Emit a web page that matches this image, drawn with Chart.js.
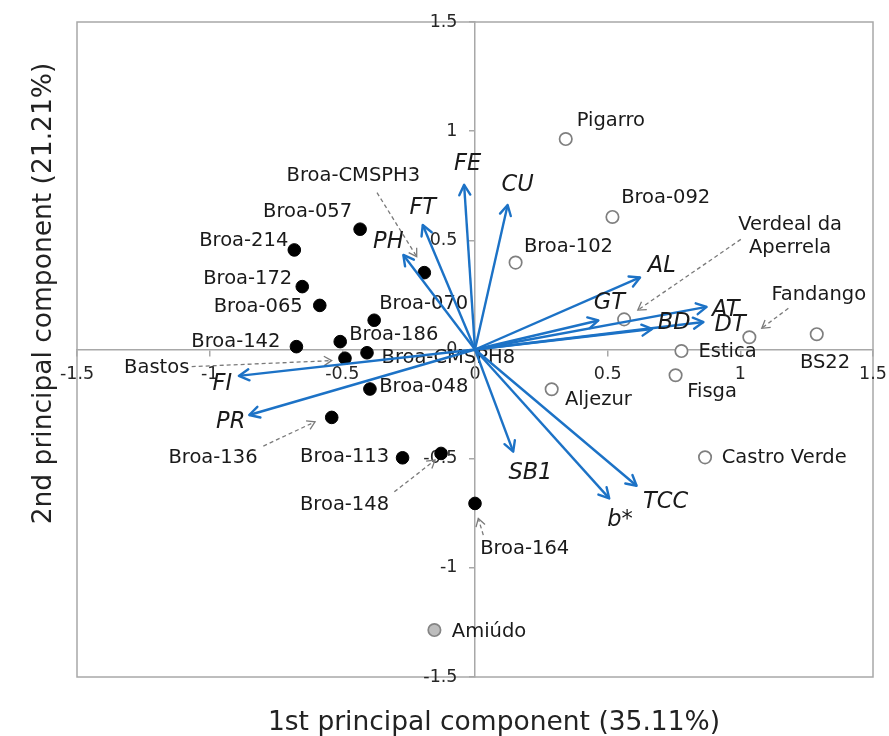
<!DOCTYPE html>
<html>
<head>
<meta charset="utf-8">
<title>PCA biplot</title>
<script src="https://cdn.jsdelivr.net/npm/chart.js@4.4.1/dist/chart.umd.min.js"></script>
<style>
  html, body { margin: 0; padding: 0; background: #ffffff; }
  canvas { display: block; }
</style>
</head>
<body>
<canvas id="biplot" width="889" height="736"></canvas>
<script>
// Scores of the Broa populations (filled markers)
const broaNames = ['Broa-057', 'Broa-214', 'Broa-172', 'Broa-065', 'Broa-CMSPH3', 'Broa-070',
  'Broa-142', 'Broa-186', 'Broa-CMSPH8', 'Bastos', 'Broa-048', 'Broa-136', 'Broa-113',
  'Broa-148', 'Broa-164'];
const broaPC1 = [-0.433, -0.681, -0.651, -0.585, -0.191, -0.380, -0.673, -0.508, -0.407,
  -0.490, -0.396, -0.540, -0.273, -0.128, 0.000];
const broaPC2 = [0.551, 0.456, 0.288, 0.202, 0.352, 0.134, 0.013, 0.036, -0.015,
  -0.040, -0.181, -0.311, -0.496, -0.476, -0.705];

// Scores of the other populations (open markers)
const otherNames = ['Pigarro', 'Broa-092', 'Broa-102', 'Verdeal da Aperrela', 'Fandango',
  'BS22', 'Estica', 'Fisga', 'Aljezur', 'Castro Verde'];
const otherPC1 = [0.342, 0.518, 0.153, 0.562, 1.034, 1.288, 0.778, 0.756, 0.289, 0.867];
const otherPC2 = [0.964, 0.607, 0.398, 0.138, 0.056, 0.070, -0.007, -0.118, -0.182, -0.494];

// Amiúdo (grey marker)
const greyNames = ['Amiúdo'];
const greyPC1 = [-0.153];
const greyPC2 = [-1.285];

// Trait loadings, drawn as vectors from the origin
const traitNames = ['FE', 'CU', 'FT', 'PH', 'AL', 'GT', 'AT', 'DT', 'BD', 'FI', 'PR', 'SB1', 'b*', 'TCC'];
const traitPC1 = [-0.041, 0.123, -0.197, -0.270, 0.622, 0.465, 0.873, 0.861, 0.667, -0.890, -0.851, 0.144, 0.506, 0.609];
const traitPC2 = [0.754, 0.662, 0.570, 0.433, 0.330, 0.133, 0.195, 0.126, 0.094, -0.121, -0.300, -0.468, -0.682, -0.624];

const axisTicks = [-1.5, -1, -0.5, 0, 0.5, 1, 1.5];
const xTitle = '1st principal component (35.11%)';
const yTitle = '2nd principal component (21.21%)';

// ---- styling / placement ----
const FONT = '"DejaVu Sans", Verdana, sans-serif';
const ARROW_BLUE = '#1c72c6';
const AXIS_GREY = '#a8a8a8';
const TEXT = '#1a1a1a';

// label offsets in px from the marker: [dx, dy, align]
const labelPlace = {
  'Broa-057': [-8, -17.6, 'right'],
  'Broa-214': [-6, -9.3, 'right'],
  'Broa-172': [-10, -7.4, 'right'],
  'Broa-065': [-17, 1.4, 'right'],
  'Broa-CMSPH3': [-71, -96.7, 'center'],
  'Broa-070': [5, -16.3, 'left'],
  'Broa-142': [-16, -5, 'right'],
  'Broa-186': [9, -6.7, 'left'],
  'Broa-CMSPH8': [14.5, 5.6, 'left'],
  'Bastos': [-155.7, 10, 'right'],
  'Broa-048': [9.3, -2.3, 'left'],
  'Broa-136': [-118.7, 41, 'center'],
  'Broa-113': [-13.4, -1, 'right'],
  'Broa-148': [-96.5, 51.7, 'center'],
  'Broa-164': [49.7, 46, 'center'],
  'Pigarro': [11, -18.3, 'left'],
  'Broa-092': [8.7, -18.7, 'left'],
  'Broa-102': [8.3, -16, 'left'],
  'Verdeal da Aperrela': [166, -94.3, 'center', ['Verdeal da', 'Aperrela']],
  'Fandango': [69.4, -42.3, 'center'],
  'BS22': [8.3, 28.4, 'center'],
  'Estica': [17, 0.7, 'left'],
  'Fisga': [11.6, 16.4, 'left'],
  'Aljezur': [13.3, 10.7, 'left'],
  'Castro Verde': [16.7, 1, 'left'],
  'Amiúdo': [17.4, 1.7, 'left']
};

// dashed leader arrows from a label to its marker (px offsets from the marker)
const leaders = {
  'Broa-CMSPH3': { from: [-47.3, -80], to: [-7.6, -16] },
  'Bastos': { from: [-153.3, 8.4], to: [-13.3, 2.4] },
  'Broa-136': { from: [-68.4, 28.7], to: [-16.7, 4.4] },
  'Broa-148': { from: [-46.7, 38.4], to: [-6, 6.7] },
  'Broa-164': { from: [8.3, 31.7], to: [3.3, 15] },
  'Verdeal da Aperrela': { from: [116.7, -80], to: [13.7, -9.3] },
  'Fandango': { from: [39, -29], to: [12.4, -9] }
};

// trait label offsets from the vector tip (label centre)
const traitPlace = {
  'FE': [3.5, -20.7], 'CU': [10, -20], 'FT': [0, -16.7], 'PH': [-15, -13.3],
  'AL': [21.7, -10.8], 'GT': [10.9, -17.2], 'AT': [19.1, 3], 'BD': [22.2, -5.7],
  'DT': [26.7, 3], 'FI': [-16.5, 8], 'PR': [-18.5, 6.7], 'SB1': [17.2, 21.6],
  'b*': [10.7, 21.7], 'TCC': [29.1, 16]
};

const toPoints = (xs, ys) => xs.map((x, i) => ({ x: x, y: ys[i] }));

const traitSets = traitNames.map((name, i) => ({
  label: name,
  data: [{ x: 0, y: 0 }, { x: traitPC1[i], y: traitPC2[i] }],
  showLine: true,
  borderColor: ARROW_BLUE,
  borderWidth: 2.4,
  pointRadius: 0,
  pointHoverRadius: 0,
  fill: false,
  order: 0,
  isTrait: true
}));

const markerSets = [
  { label: 'broa', names: broaNames, data: toPoints(broaPC1, broaPC2),
    backgroundColor: '#000000', borderColor: '#000000', borderWidth: 1, pointRadius: 6.3, order: 2 },
  { label: 'other', names: otherNames, data: toPoints(otherPC1, otherPC2),
    backgroundColor: '#ffffff', borderColor: '#7f7f7f', borderWidth: 1.7, pointRadius: 6.2, order: 2 },
  { label: 'grey', names: greyNames, data: toPoints(greyPC1, greyPC2),
    backgroundColor: '#bdbdbd', borderColor: '#858585', borderWidth: 1.7, pointRadius: 6.2, order: 2 }
];

function drawHead(ctx, x0, y0, x1, y1, len, half) {
  const a = Math.atan2(y1 - y0, x1 - x0);
  ctx.beginPath();
  ctx.moveTo(x1 - len * Math.cos(a - half), y1 - len * Math.sin(a - half));
  ctx.lineTo(x1, y1);
  ctx.lineTo(x1 - len * Math.cos(a + half), y1 - len * Math.sin(a + half));
  ctx.stroke();
}

// frame around the plotting area
const framePlugin = {
  id: 'frame',
  beforeDraw(chart) {
    const { ctx, chartArea: a } = chart;
    ctx.save();
    ctx.strokeStyle = AXIS_GREY;
    ctx.lineWidth = 1.5;
    ctx.strokeRect(a.left, a.top, a.right - a.left, a.bottom - a.top);
    ctx.restore();
  }
};

// population names and leader arrows, beneath the vectors
const markerLabelPlugin = {
  id: 'markerLabels',
  beforeDatasetsDraw(chart) {
    const ctx = chart.ctx;
    ctx.save();
    ctx.font = '19.5px ' + FONT;
    ctx.fillStyle = TEXT;
    ctx.textBaseline = 'middle';
    chart.data.datasets.forEach((ds, di) => {
      if (!ds.names) return;
      const meta = chart.getDatasetMeta(di);
      ds.names.forEach((name, i) => {
        const el = meta.data[i];
        const p = labelPlace[name] || [10, 0, 'left'];
        const lines = p[3] || [name];
        ctx.textAlign = p[2];
        lines.forEach((ln, k) => ctx.fillText(ln, el.x + p[0], el.y + p[1] + k * 23.3));
        const ld = leaders[name];
        if (ld) {
          const x0 = el.x + ld.from[0], y0 = el.y + ld.from[1];
          const x1 = el.x + ld.to[0], y1 = el.y + ld.to[1];
          ctx.save();
          ctx.strokeStyle = '#7a7a7a';
          ctx.lineWidth = 1.3;
          ctx.setLineDash([4, 3]);
          ctx.beginPath();
          ctx.moveTo(x0, y0);
          ctx.lineTo(x1, y1);
          ctx.stroke();
          ctx.setLineDash([]);
          drawHead(ctx, x0, y0, x1, y1, 9, 0.55);
          ctx.restore();
        }
      });
    });
    ctx.restore();
  }
};

// arrow heads and trait names on the loading vectors
const traitPlugin = {
  id: 'traitVectors',
  afterDatasetsDraw(chart) {
    const ctx = chart.ctx;
    ctx.save();
    ctx.lineCap = 'round';
    ctx.lineJoin = 'round';
    chart.data.datasets.forEach((ds, di) => {
      if (!ds.isTrait) return;
      const meta = chart.getDatasetMeta(di);
      const o = meta.data[0], t = meta.data[1];
      ctx.strokeStyle = ARROW_BLUE;
      ctx.lineWidth = 2.4;
      drawHead(ctx, o.x, o.y, t.x, t.y, 11.5, 0.5);
      const off = traitPlace[ds.label] || [0, -15];
      ctx.font = 'italic 22.5px ' + FONT;
      ctx.fillStyle = TEXT;
      ctx.textAlign = 'center';
      ctx.textBaseline = 'middle';
      ctx.fillText(ds.label, t.x + off[0], t.y + off[1]);
    });
    ctx.restore();
  }
};

// axis titles outside the frame
const titlePlugin = {
  id: 'axisTitles',
  afterDraw(chart) {
    const ctx = chart.ctx;
    ctx.save();
    ctx.font = '26.5px ' + FONT;
    ctx.fillStyle = '#222222';
    ctx.textAlign = 'center';
    ctx.textBaseline = 'alphabetic';
    ctx.fillText(xTitle, 494, 730);
    ctx.translate(51, 293.5);
    ctx.rotate(-Math.PI / 2);
    ctx.fillText(yTitle, 0, 0);
    ctx.restore();
  }
};

// the crossing axes sit inside the frame, so they reserve no edge padding
const noEdgePadding = s => { s.paddingLeft = 0; s.paddingRight = 0; s.paddingTop = 0; s.paddingBottom = 0; };
const setTicks = s => { s.ticks = axisTicks.map(v => ({ value: v })); };

new Chart(document.getElementById('biplot'), {
  type: 'scatter',
  data: { datasets: traitSets.concat(markerSets) },
  options: {
    responsive: false,
    animation: false,
    devicePixelRatio: 1,
    layout: { padding: { left: 77, top: 22, right: 16, bottom: 59 } },
    plugins: { legend: { display: false }, tooltip: { enabled: false } },
    elements: { line: { tension: 0 } },
    scales: {
      x: {
        type: 'linear', min: -1.5, max: 1.5, position: { y: 0 },
        afterBuildTicks: setTicks,
        afterFit: noEdgePadding,
        grid: { drawOnChartArea: false, drawTicks: true, tickLength: 6, color: AXIS_GREY, lineWidth: 1.5 },
        border: { color: AXIS_GREY, width: 1.5 },
        ticks: { font: { family: FONT, size: 17.5 }, color: '#262626', padding: 8, maxRotation: 0, autoSkip: false,
          callback: v => String(v) }
      },
      y: {
        type: 'linear', min: -1.5, max: 1.5, position: { x: 0 },
        afterBuildTicks: setTicks,
        afterFit: noEdgePadding,
        grid: { drawOnChartArea: false, drawTicks: true, tickLength: 5, color: AXIS_GREY, lineWidth: 1.5 },
        border: { color: AXIS_GREY, width: 1.5 },
        // labels are right-aligned on the axis line; trailing spaces keep them clear of it
        ticks: { font: { family: FONT, size: 17.5 }, color: '#262626', autoSkip: false,
          callback: v => String(v) + '\u2002\u2002' }
      }
    }
  },
  plugins: [framePlugin, markerLabelPlugin, traitPlugin, titlePlugin]
});
</script>
</body>
</html>
